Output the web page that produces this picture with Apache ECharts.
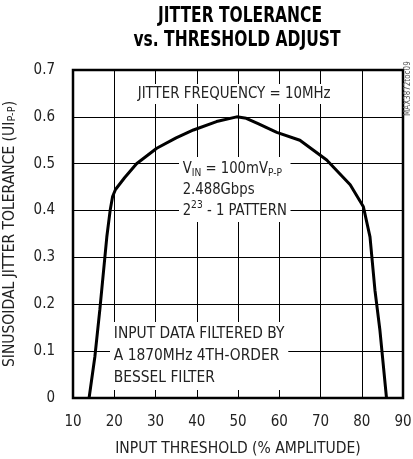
<!DOCTYPE html>
<html><head><meta charset="utf-8">
<script src="https://cdn.jsdelivr.net/npm/echarts@6/dist/echarts.min.js"></script>
<style>html,body{margin:0;padding:0;background:#fff}#c{width:413px;height:459px}</style>
</head><body><div id="c"></div>
<script>
var thresholdPct = [13.9,15.3,16.5,18.2,19.0,19.6,20.3,22.5,25.4,30.3,35.0,39.2,44.8,49.7,52.0,55.0,59.4,65.0,71.5,77.2,80.4,82.0,83.2,84.4,86.0];
var jitterUI    = [0,0.088,0.188,0.344,0.40,0.43,0.445,0.47,0.50,0.533,0.555,0.572,0.59,0.60,0.597,0.585,0.567,0.55,0.508,0.455,0.408,0.344,0.23,0.145,0];
var xTicks = [10,20,30,40,50,60,70,80,90];
var yTicks = ['0','0.1','0.2','0.3','0.4','0.5','0.6','0.7'];
var FONT = "'Liberation Sans Narrow','Arial Narrow','DejaVu Sans Condensed',sans-serif";
var pts = thresholdPct.map(function(x,i){return [x,jitterUI[i]];});
var chart = echarts.init(document.getElementById('c'));
chart.setOption({
  animation:false,
  backgroundColor:'#fff',
  grid:{left:73,right:10,top:70,bottom:61,containLabel:false,outerBoundsMode:'none',show:true,borderColor:'#000',borderWidth:2.5,backgroundColor:'transparent'},
  xAxis:{type:'value',min:10,max:90,interval:10,
    axisLine:{show:false},axisTick:{show:false},
    splitLine:{show:true,lineStyle:{color:'#000',width:1}},
    axisLabel:{margin:17,fontFamily:FONT,fontSize:15,color:'#222',formatter:function(v){return xTicks.indexOf(v)>=0?String(v):'';}},
    name:'INPUT THRESHOLD (% AMPLITUDE)',nameLocation:'middle',nameGap:43,
    nameTextStyle:{fontFamily:FONT,fontSize:15.5,color:'#222'}},
  yAxis:{type:'value',min:0,max:0.7,interval:0.1,
    axisLine:{show:false},axisTick:{show:false},
    splitLine:{show:true,lineStyle:{color:'#000',width:1}},
    axisLabel:{margin:18,fontFamily:FONT,fontSize:15,color:'#222',formatter:function(v){return yTicks[Math.round(v*10)];}},
    name:'SINUSOIDAL JITTER TOLERANCE (UI{sub|P-P})',nameLocation:'middle',nameGap:55,nameRotate:90,
    nameTextStyle:{fontFamily:FONT,fontSize:15.5,color:'#222',rich:{sub:{fontFamily:FONT,fontSize:11,color:'#222',verticalAlign:'bottom',padding:[6,0,0,0]}}}},
  series:[{type:'line',data:pts,showSymbol:false,symbol:'none',lineStyle:{color:'#000',width:3},z:3}],
  graphic:[
    {type:'text',x:240,y:17,scaleX:0.82,z:10,style:{text:'JITTER TOLERANCE',x:0,y:0,textAlign:'center',textVerticalAlign:'middle',font:'bold 21px '+FONT,fill:'#000'}},
    {type:'text',x:237,y:41,scaleX:0.82,z:10,style:{text:'vs. THRESHOLD ADJUST',x:0,y:0,textAlign:'center',textVerticalAlign:'middle',font:'bold 21px '+FONT,fill:'#000'}},
    {type:'text',x:134,y:84,scaleX:0.93,z:10,style:{text:'JITTER FREQUENCY = 10MHz',x:0,y:0,font:'16px '+FONT,fill:'#222',backgroundColor:'#fff',padding:[2,4]}},
    {type:'text',x:179,y:157,scaleX:0.92,z:10,style:{text:'V{s|IN} = 100mV{s|P-P}\n2.488Gbps\n2{p|23} - 1 PATTERN',x:0,y:0,font:'16px '+FONT,fill:'#222',lineHeight:21,backgroundColor:'#fff',padding:[1,4],
      rich:{s:{font:'11px '+FONT,fill:'#222',verticalAlign:'bottom',padding:[5,0,0,0]},p:{font:'11px '+FONT,fill:'#222',verticalAlign:'top'}}}},
    {type:'text',x:110,y:322,scaleX:0.96,z:10,style:{text:'INPUT DATA FILTERED BY\nA 1870MHz 4TH-ORDER\nBESSEL FILTER',x:0,y:0,font:'16px '+FONT,fill:'#222',lineHeight:22,backgroundColor:'#fff',padding:[1,4]}},
    {type:'text',x:404,y:116,rotation:Math.PI/2,z:10,style:{text:'MAX3872toc09',x:0,y:0,textVerticalAlign:'top',font:'8px '+FONT,fill:'#555'}}
  ]
});
</script></body></html>
